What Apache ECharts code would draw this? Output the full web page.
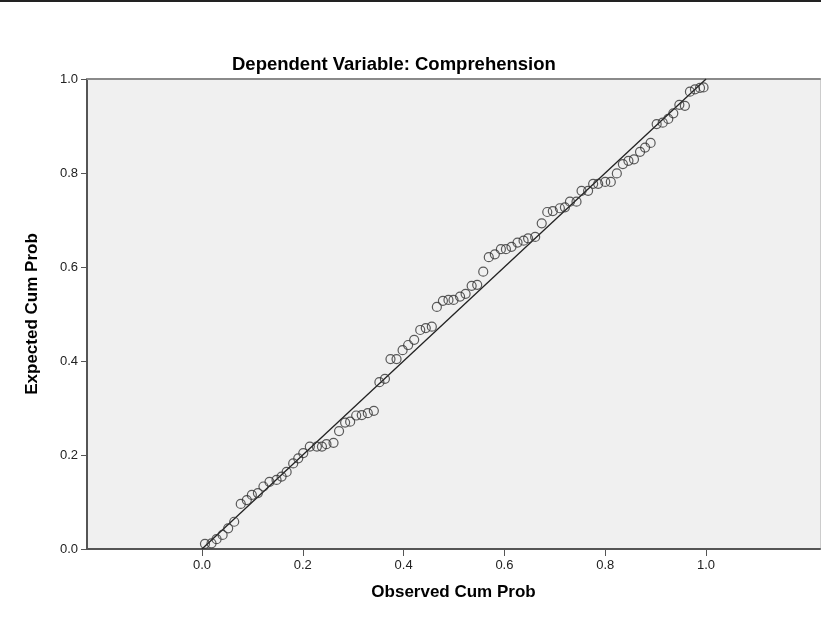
<!DOCTYPE html>
<html>
<head>
<meta charset="utf-8">
<script src="https://cdn.jsdelivr.net/npm/echarts@6/dist/echarts.min.js"></script>
<style>
html,body{margin:0;padding:0;background:#fff;}
#chart{width:821px;height:619px;}
</style>
</head>
<body>
<div id="chart"></div>
<script>
const titleText = "Dependent Variable: Comprehension";
const xAxisTitle = "Observed Cum Prob";
const yAxisTitle = "Expected Cum Prob";
const tickValues = [0, 0.2, 0.4, 0.6, 0.8, 1.0];

const observed = [
  0.006, 0.019, 0.029, 0.041, 0.052, 0.064, 0.077, 0.089, 0.099, 0.111,
  0.122, 0.134, 0.148, 0.158, 0.168, 0.181, 0.191, 0.201, 0.214, 0.228,
  0.238, 0.247, 0.261, 0.272, 0.284, 0.294, 0.306, 0.317, 0.329, 0.341,
  0.352, 0.363, 0.374, 0.386, 0.398, 0.409, 0.421, 0.433, 0.444, 0.456,
  0.466, 0.478, 0.489, 0.499, 0.512, 0.523, 0.535, 0.546, 0.558, 0.569,
  0.581, 0.593, 0.603, 0.614, 0.626, 0.638, 0.647, 0.661, 0.674, 0.685,
  0.696, 0.710, 0.720, 0.730, 0.743, 0.753, 0.766, 0.776, 0.786, 0.800,
  0.811, 0.823, 0.835, 0.846, 0.857, 0.869, 0.879, 0.890, 0.902, 0.914,
  0.925, 0.935, 0.947, 0.958, 0.968, 0.978, 0.988, 0.995
];
const expected = [
  0.011, 0.012, 0.021, 0.030, 0.044, 0.058, 0.096, 0.104, 0.115, 0.119,
  0.133, 0.143, 0.147, 0.154, 0.164, 0.182, 0.193, 0.204, 0.218, 0.218,
  0.218, 0.223, 0.226, 0.251, 0.269, 0.271, 0.284, 0.285, 0.289, 0.294,
  0.355, 0.362, 0.404, 0.404, 0.423, 0.434, 0.445, 0.466, 0.470, 0.473,
  0.515, 0.528, 0.530, 0.530, 0.537, 0.543, 0.560, 0.562, 0.590, 0.621,
  0.627, 0.638, 0.638, 0.643, 0.652, 0.656, 0.661, 0.664, 0.693, 0.717,
  0.719, 0.725, 0.727, 0.739, 0.739, 0.762, 0.762, 0.777, 0.777, 0.781,
  0.781, 0.799, 0.819, 0.826, 0.829, 0.845, 0.854, 0.864, 0.904, 0.907,
  0.915, 0.927, 0.945, 0.943, 0.973, 0.978, 0.981, 0.982
];
const refLine = [[0, 0], [1, 1]];

const points = observed.map((x, i) => [x, expected[i]]);
const fontFam = "'Liberation Sans', Arial, sans-serif";

const chart = echarts.init(document.getElementById('chart'), null, {renderer: 'canvas'});
chart.setOption({
  animation: false,
  backgroundColor: '#ffffff',
  title: {
    text: titleText,
    left: 232,
    top: 55,
    padding: 0,
    textStyle: {fontFamily: fontFam, fontSize: 18.5, fontWeight: 'bold', color: '#000'}
  },
  graphic: [{
    type: 'rect',
    shape: {x: 0, y: 0, width: 821, height: 2},
    style: {fill: '#222'}
  }],
  grid: {
    left: 87, right: 1, top: 79, bottom: 70,
    show: true, backgroundColor: '#f0f0f0', borderWidth: 0
  },
  xAxis: [{
    type: 'value',
    min: -0.228, max: 1.226,
    name: xAxisTitle,
    nameLocation: 'middle',
    nameGap: 35,
    nameTextStyle: {fontFamily: fontFam, fontSize: 17, fontWeight: 'bold', color: '#000'},
    splitLine: {show: false},
    axisLine: {show: true, onZero: false, lineStyle: {color: '#555', width: 2}},
    axisTick: {show: true, customValues: tickValues, length: 7, lineStyle: {color: '#555', width: 1}},
    axisLabel: {customValues: tickValues, formatter: v => v.toFixed(1), margin: 10,
      fontFamily: fontFam, fontSize: 13, color: '#222'}
  }, {
    type: 'value', position: 'top',
    min: -0.228, max: 1.226,
    splitLine: {show: false},
    axisLine: {show: true, onZero: false, lineStyle: {color: '#8a8a8a', width: 2}},
    axisTick: {show: false}, axisLabel: {show: false}
  }],
  yAxis: [{
    type: 'value',
    min: 0, max: 1, interval: 0.2,
    name: yAxisTitle,
    nameLocation: 'middle',
    nameGap: 46,
    nameTextStyle: {fontFamily: fontFam, fontSize: 17, fontWeight: 'bold', color: '#000'},
    splitLine: {show: false},
    axisLine: {show: true, onZero: false, lineStyle: {color: '#555', width: 2}},
    axisTick: {show: true, length: 6, lineStyle: {color: '#555', width: 1}},
    axisLabel: {formatter: v => v.toFixed(1), margin: 9,
      fontFamily: fontFam, fontSize: 13, color: '#222'}
  }, {
    type: 'value', position: 'right',
    min: 0, max: 1,
    splitLine: {show: false},
    axisLine: {show: true, onZero: false, lineStyle: {color: '#cccccc', width: 1}},
    axisTick: {show: false}, axisLabel: {show: false}
  }],
  series: [{
    type: 'line',
    data: refLine,
    symbol: 'none',
    lineStyle: {color: '#222', width: 1.3},
    z: 3
  }, {
    type: 'scatter',
    data: points,
    symbol: 'circle',
    symbolSize: 9,
    itemStyle: {color: 'rgba(0,0,0,0)', borderColor: '#333', borderWidth: 1.2},
    z: 4
  }]
});
</script>
</body>
</html>
